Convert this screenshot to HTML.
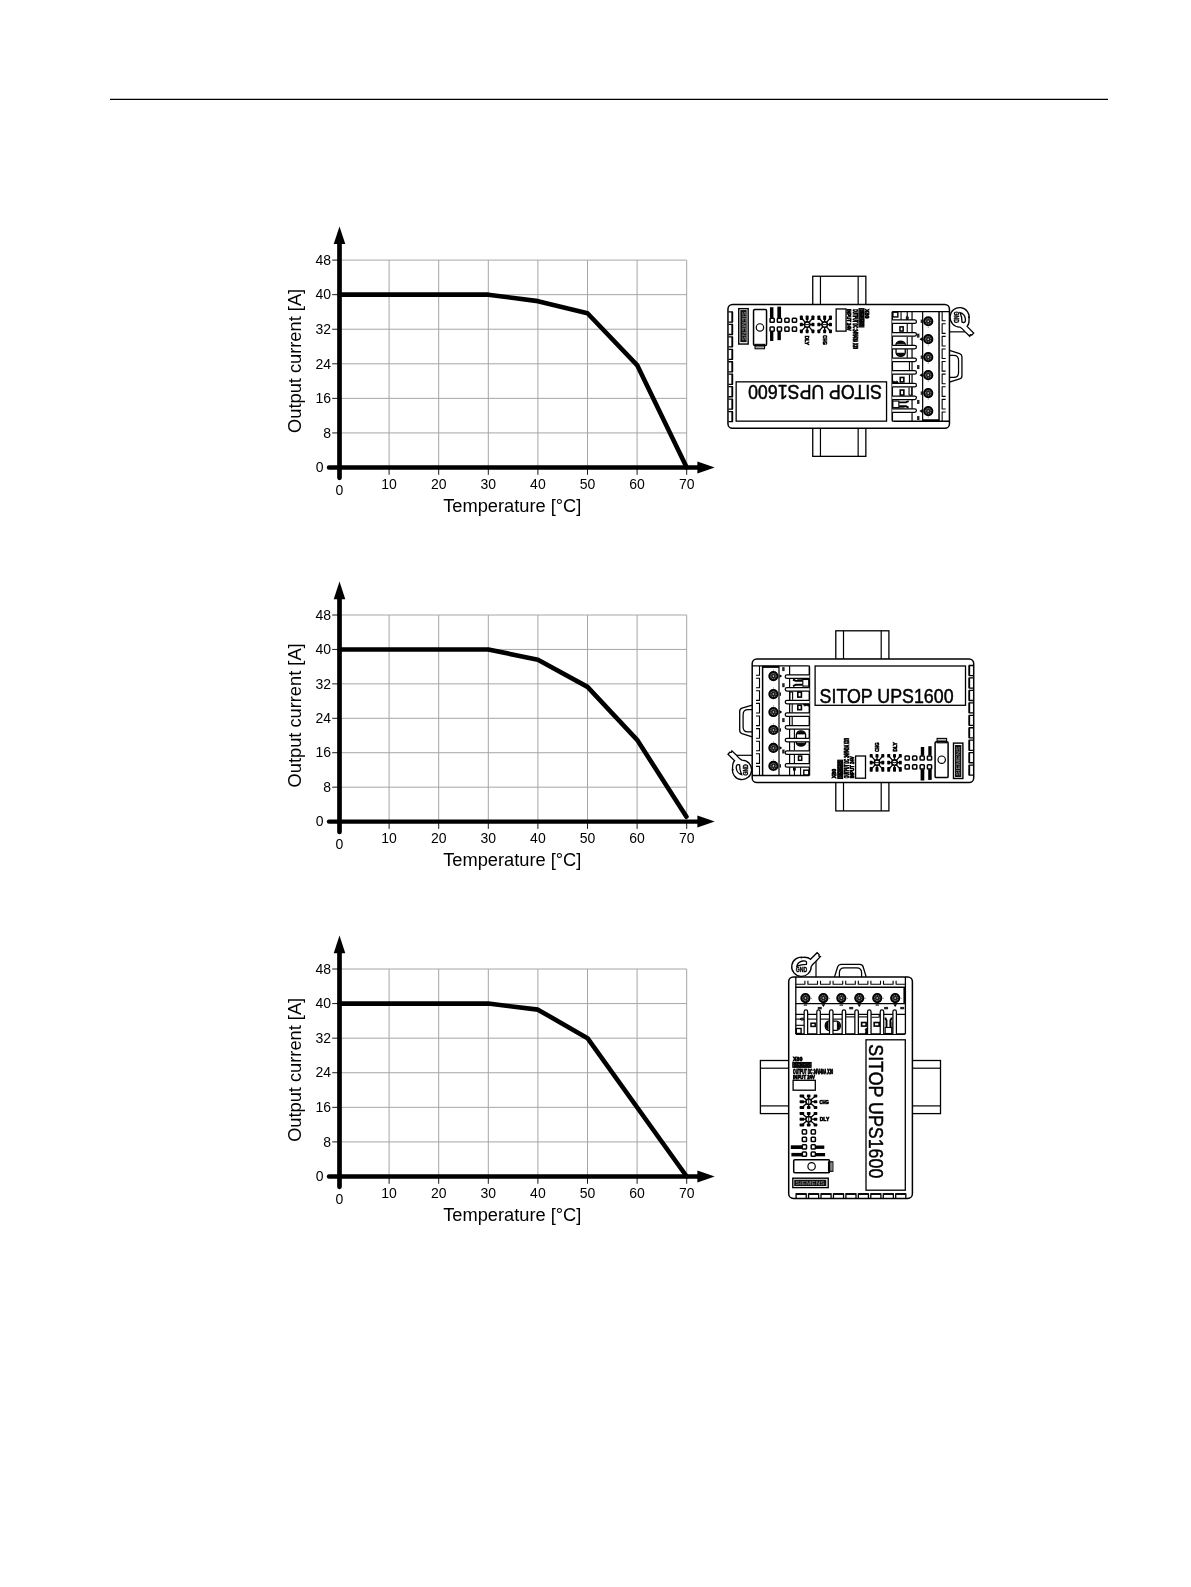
<!DOCTYPE html>
<html><head><meta charset="utf-8"><title>SITOP UPS1600 derating</title>
<style>html,body{margin:0;padding:0;background:#fff;}svg{display:block;will-change:transform;}</style></head>
<body>
<svg width="1191" height="1587" viewBox="0 0 1191 1587" font-family="'Liberation Sans', Arial, sans-serif" fill="#000">
<rect x="0" y="0" width="1191" height="1587" fill="#fff"/>
<line x1="110" y1="99.4" x2="1108" y2="99.4" stroke="#000" stroke-width="1.4"/>
<line x1="389.10" y1="260.10" x2="389.10" y2="467.50" stroke="#a6a6a6" stroke-width="1"/>
<line x1="389.10" y1="467.50" x2="389.10" y2="474.80" stroke="#1a1a1a" stroke-width="1"/>
<line x1="438.70" y1="260.10" x2="438.70" y2="467.50" stroke="#a6a6a6" stroke-width="1"/>
<line x1="438.70" y1="467.50" x2="438.70" y2="474.80" stroke="#1a1a1a" stroke-width="1"/>
<line x1="488.30" y1="260.10" x2="488.30" y2="467.50" stroke="#a6a6a6" stroke-width="1"/>
<line x1="488.30" y1="467.50" x2="488.30" y2="474.80" stroke="#1a1a1a" stroke-width="1"/>
<line x1="537.90" y1="260.10" x2="537.90" y2="467.50" stroke="#a6a6a6" stroke-width="1"/>
<line x1="537.90" y1="467.50" x2="537.90" y2="474.80" stroke="#1a1a1a" stroke-width="1"/>
<line x1="587.50" y1="260.10" x2="587.50" y2="467.50" stroke="#a6a6a6" stroke-width="1"/>
<line x1="587.50" y1="467.50" x2="587.50" y2="474.80" stroke="#1a1a1a" stroke-width="1"/>
<line x1="637.10" y1="260.10" x2="637.10" y2="467.50" stroke="#a6a6a6" stroke-width="1"/>
<line x1="637.10" y1="467.50" x2="637.10" y2="474.80" stroke="#1a1a1a" stroke-width="1"/>
<line x1="686.70" y1="260.10" x2="686.70" y2="467.50" stroke="#a6a6a6" stroke-width="1"/>
<line x1="686.70" y1="467.50" x2="686.70" y2="474.80" stroke="#1a1a1a" stroke-width="1"/>
<line x1="339.50" y1="432.93" x2="686.70" y2="432.93" stroke="#a6a6a6" stroke-width="1"/>
<line x1="332.2" y1="432.93" x2="339.50" y2="432.93" stroke="#1a1a1a" stroke-width="1"/>
<line x1="339.50" y1="398.37" x2="686.70" y2="398.37" stroke="#a6a6a6" stroke-width="1"/>
<line x1="332.2" y1="398.37" x2="339.50" y2="398.37" stroke="#1a1a1a" stroke-width="1"/>
<line x1="339.50" y1="363.80" x2="686.70" y2="363.80" stroke="#a6a6a6" stroke-width="1"/>
<line x1="332.2" y1="363.80" x2="339.50" y2="363.80" stroke="#1a1a1a" stroke-width="1"/>
<line x1="339.50" y1="329.23" x2="686.70" y2="329.23" stroke="#a6a6a6" stroke-width="1"/>
<line x1="332.2" y1="329.23" x2="339.50" y2="329.23" stroke="#1a1a1a" stroke-width="1"/>
<line x1="339.50" y1="294.67" x2="686.70" y2="294.67" stroke="#a6a6a6" stroke-width="1"/>
<line x1="332.2" y1="294.67" x2="339.50" y2="294.67" stroke="#1a1a1a" stroke-width="1"/>
<line x1="339.50" y1="260.10" x2="686.70" y2="260.10" stroke="#a6a6a6" stroke-width="1"/>
<line x1="332.2" y1="260.10" x2="339.50" y2="260.10" stroke="#1a1a1a" stroke-width="1"/>
<text x="323.6" y="472.20" font-size="14" text-anchor="end">0</text>
<text x="331" y="437.63" font-size="14" text-anchor="end">8</text>
<text x="331" y="403.07" font-size="14" text-anchor="end">16</text>
<text x="331" y="368.50" font-size="14" text-anchor="end">24</text>
<text x="331" y="333.93" font-size="14" text-anchor="end">32</text>
<text x="331" y="299.37" font-size="14" text-anchor="end">40</text>
<text x="331" y="264.80" font-size="14" text-anchor="end">48</text>
<text x="389.10" y="489.30" font-size="14" text-anchor="middle">10</text>
<text x="438.70" y="489.30" font-size="14" text-anchor="middle">20</text>
<text x="488.30" y="489.30" font-size="14" text-anchor="middle">30</text>
<text x="537.90" y="489.30" font-size="14" text-anchor="middle">40</text>
<text x="587.50" y="489.30" font-size="14" text-anchor="middle">50</text>
<text x="637.10" y="489.30" font-size="14" text-anchor="middle">60</text>
<text x="686.70" y="489.30" font-size="14" text-anchor="middle">70</text>
<text x="339.50" y="494.80" font-size="14" text-anchor="middle">0</text>
<text x="512.3" y="511.50" font-size="18.25" text-anchor="middle">Temperature [°C]</text>
<text transform="translate(301.1 360.90) rotate(-90)" font-size="18.25" text-anchor="middle">Output current [A]</text>
<polyline points="339.50,294.67 488.30,294.67 537.90,301.15 587.50,313.25 637.10,365.10 686.70,467.50" fill="none" stroke="#000" stroke-width="4.6" stroke-linejoin="round" stroke-linecap="round"/>
<line x1="339.5" y1="477.80" x2="339.5" y2="243.50" stroke="#000" stroke-width="4.7" stroke-linecap="round"/>
<path d="M333.70,244.00 L339.50,226.40 L345.30,244.00 Z" fill="#000"/>
<line x1="329" y1="467.50" x2="698" y2="467.50" stroke="#000" stroke-width="4.4" stroke-linecap="round"/>
<path d="M697.4,461.50 L714.7,467.50 L697.4,473.50 Z" fill="#000"/>
<line x1="389.10" y1="615.00" x2="389.10" y2="821.60" stroke="#a6a6a6" stroke-width="1"/>
<line x1="389.10" y1="821.60" x2="389.10" y2="828.90" stroke="#1a1a1a" stroke-width="1"/>
<line x1="438.70" y1="615.00" x2="438.70" y2="821.60" stroke="#a6a6a6" stroke-width="1"/>
<line x1="438.70" y1="821.60" x2="438.70" y2="828.90" stroke="#1a1a1a" stroke-width="1"/>
<line x1="488.30" y1="615.00" x2="488.30" y2="821.60" stroke="#a6a6a6" stroke-width="1"/>
<line x1="488.30" y1="821.60" x2="488.30" y2="828.90" stroke="#1a1a1a" stroke-width="1"/>
<line x1="537.90" y1="615.00" x2="537.90" y2="821.60" stroke="#a6a6a6" stroke-width="1"/>
<line x1="537.90" y1="821.60" x2="537.90" y2="828.90" stroke="#1a1a1a" stroke-width="1"/>
<line x1="587.50" y1="615.00" x2="587.50" y2="821.60" stroke="#a6a6a6" stroke-width="1"/>
<line x1="587.50" y1="821.60" x2="587.50" y2="828.90" stroke="#1a1a1a" stroke-width="1"/>
<line x1="637.10" y1="615.00" x2="637.10" y2="821.60" stroke="#a6a6a6" stroke-width="1"/>
<line x1="637.10" y1="821.60" x2="637.10" y2="828.90" stroke="#1a1a1a" stroke-width="1"/>
<line x1="686.70" y1="615.00" x2="686.70" y2="821.60" stroke="#a6a6a6" stroke-width="1"/>
<line x1="686.70" y1="821.60" x2="686.70" y2="828.90" stroke="#1a1a1a" stroke-width="1"/>
<line x1="339.50" y1="787.17" x2="686.70" y2="787.17" stroke="#a6a6a6" stroke-width="1"/>
<line x1="332.2" y1="787.17" x2="339.50" y2="787.17" stroke="#1a1a1a" stroke-width="1"/>
<line x1="339.50" y1="752.73" x2="686.70" y2="752.73" stroke="#a6a6a6" stroke-width="1"/>
<line x1="332.2" y1="752.73" x2="339.50" y2="752.73" stroke="#1a1a1a" stroke-width="1"/>
<line x1="339.50" y1="718.30" x2="686.70" y2="718.30" stroke="#a6a6a6" stroke-width="1"/>
<line x1="332.2" y1="718.30" x2="339.50" y2="718.30" stroke="#1a1a1a" stroke-width="1"/>
<line x1="339.50" y1="683.87" x2="686.70" y2="683.87" stroke="#a6a6a6" stroke-width="1"/>
<line x1="332.2" y1="683.87" x2="339.50" y2="683.87" stroke="#1a1a1a" stroke-width="1"/>
<line x1="339.50" y1="649.43" x2="686.70" y2="649.43" stroke="#a6a6a6" stroke-width="1"/>
<line x1="332.2" y1="649.43" x2="339.50" y2="649.43" stroke="#1a1a1a" stroke-width="1"/>
<line x1="339.50" y1="615.00" x2="686.70" y2="615.00" stroke="#a6a6a6" stroke-width="1"/>
<line x1="332.2" y1="615.00" x2="339.50" y2="615.00" stroke="#1a1a1a" stroke-width="1"/>
<text x="323.6" y="826.30" font-size="14" text-anchor="end">0</text>
<text x="331" y="791.87" font-size="14" text-anchor="end">8</text>
<text x="331" y="757.43" font-size="14" text-anchor="end">16</text>
<text x="331" y="723.00" font-size="14" text-anchor="end">24</text>
<text x="331" y="688.57" font-size="14" text-anchor="end">32</text>
<text x="331" y="654.13" font-size="14" text-anchor="end">40</text>
<text x="331" y="619.70" font-size="14" text-anchor="end">48</text>
<text x="389.10" y="843.40" font-size="14" text-anchor="middle">10</text>
<text x="438.70" y="843.40" font-size="14" text-anchor="middle">20</text>
<text x="488.30" y="843.40" font-size="14" text-anchor="middle">30</text>
<text x="537.90" y="843.40" font-size="14" text-anchor="middle">40</text>
<text x="587.50" y="843.40" font-size="14" text-anchor="middle">50</text>
<text x="637.10" y="843.40" font-size="14" text-anchor="middle">60</text>
<text x="686.70" y="843.40" font-size="14" text-anchor="middle">70</text>
<text x="339.50" y="848.90" font-size="14" text-anchor="middle">0</text>
<text x="512.3" y="865.60" font-size="18.25" text-anchor="middle">Temperature [°C]</text>
<text transform="translate(301.1 715.40) rotate(-90)" font-size="18.25" text-anchor="middle">Output current [A]</text>
<polyline points="339.50,649.43 488.30,649.43 537.90,659.76 587.50,686.88 637.10,739.82 686.45,816.65" fill="none" stroke="#000" stroke-width="4.6" stroke-linejoin="round" stroke-linecap="round"/>
<line x1="339.5" y1="831.90" x2="339.5" y2="598.70" stroke="#000" stroke-width="4.7" stroke-linecap="round"/>
<path d="M333.70,599.20 L339.50,581.60 L345.30,599.20 Z" fill="#000"/>
<line x1="329" y1="821.60" x2="698" y2="821.60" stroke="#000" stroke-width="4.4" stroke-linecap="round"/>
<path d="M697.4,815.60 L714.7,821.60 L697.4,827.60 Z" fill="#000"/>
<line x1="389.10" y1="969.00" x2="389.10" y2="1176.50" stroke="#a6a6a6" stroke-width="1"/>
<line x1="389.10" y1="1176.50" x2="389.10" y2="1183.80" stroke="#1a1a1a" stroke-width="1"/>
<line x1="438.70" y1="969.00" x2="438.70" y2="1176.50" stroke="#a6a6a6" stroke-width="1"/>
<line x1="438.70" y1="1176.50" x2="438.70" y2="1183.80" stroke="#1a1a1a" stroke-width="1"/>
<line x1="488.30" y1="969.00" x2="488.30" y2="1176.50" stroke="#a6a6a6" stroke-width="1"/>
<line x1="488.30" y1="1176.50" x2="488.30" y2="1183.80" stroke="#1a1a1a" stroke-width="1"/>
<line x1="537.90" y1="969.00" x2="537.90" y2="1176.50" stroke="#a6a6a6" stroke-width="1"/>
<line x1="537.90" y1="1176.50" x2="537.90" y2="1183.80" stroke="#1a1a1a" stroke-width="1"/>
<line x1="587.50" y1="969.00" x2="587.50" y2="1176.50" stroke="#a6a6a6" stroke-width="1"/>
<line x1="587.50" y1="1176.50" x2="587.50" y2="1183.80" stroke="#1a1a1a" stroke-width="1"/>
<line x1="637.10" y1="969.00" x2="637.10" y2="1176.50" stroke="#a6a6a6" stroke-width="1"/>
<line x1="637.10" y1="1176.50" x2="637.10" y2="1183.80" stroke="#1a1a1a" stroke-width="1"/>
<line x1="686.70" y1="969.00" x2="686.70" y2="1176.50" stroke="#a6a6a6" stroke-width="1"/>
<line x1="686.70" y1="1176.50" x2="686.70" y2="1183.80" stroke="#1a1a1a" stroke-width="1"/>
<line x1="339.50" y1="1141.92" x2="686.70" y2="1141.92" stroke="#a6a6a6" stroke-width="1"/>
<line x1="332.2" y1="1141.92" x2="339.50" y2="1141.92" stroke="#1a1a1a" stroke-width="1"/>
<line x1="339.50" y1="1107.33" x2="686.70" y2="1107.33" stroke="#a6a6a6" stroke-width="1"/>
<line x1="332.2" y1="1107.33" x2="339.50" y2="1107.33" stroke="#1a1a1a" stroke-width="1"/>
<line x1="339.50" y1="1072.75" x2="686.70" y2="1072.75" stroke="#a6a6a6" stroke-width="1"/>
<line x1="332.2" y1="1072.75" x2="339.50" y2="1072.75" stroke="#1a1a1a" stroke-width="1"/>
<line x1="339.50" y1="1038.17" x2="686.70" y2="1038.17" stroke="#a6a6a6" stroke-width="1"/>
<line x1="332.2" y1="1038.17" x2="339.50" y2="1038.17" stroke="#1a1a1a" stroke-width="1"/>
<line x1="339.50" y1="1003.58" x2="686.70" y2="1003.58" stroke="#a6a6a6" stroke-width="1"/>
<line x1="332.2" y1="1003.58" x2="339.50" y2="1003.58" stroke="#1a1a1a" stroke-width="1"/>
<line x1="339.50" y1="969.00" x2="686.70" y2="969.00" stroke="#a6a6a6" stroke-width="1"/>
<line x1="332.2" y1="969.00" x2="339.50" y2="969.00" stroke="#1a1a1a" stroke-width="1"/>
<text x="323.6" y="1181.20" font-size="14" text-anchor="end">0</text>
<text x="331" y="1146.62" font-size="14" text-anchor="end">8</text>
<text x="331" y="1112.03" font-size="14" text-anchor="end">16</text>
<text x="331" y="1077.45" font-size="14" text-anchor="end">24</text>
<text x="331" y="1042.87" font-size="14" text-anchor="end">32</text>
<text x="331" y="1008.28" font-size="14" text-anchor="end">40</text>
<text x="331" y="973.70" font-size="14" text-anchor="end">48</text>
<text x="389.10" y="1198.30" font-size="14" text-anchor="middle">10</text>
<text x="438.70" y="1198.30" font-size="14" text-anchor="middle">20</text>
<text x="488.30" y="1198.30" font-size="14" text-anchor="middle">30</text>
<text x="537.90" y="1198.30" font-size="14" text-anchor="middle">40</text>
<text x="587.50" y="1198.30" font-size="14" text-anchor="middle">50</text>
<text x="637.10" y="1198.30" font-size="14" text-anchor="middle">60</text>
<text x="686.70" y="1198.30" font-size="14" text-anchor="middle">70</text>
<text x="339.50" y="1203.80" font-size="14" text-anchor="middle">0</text>
<text x="512.3" y="1220.50" font-size="18.25" text-anchor="middle">Temperature [°C]</text>
<text transform="translate(301.1 1069.85) rotate(-90)" font-size="18.25" text-anchor="middle">Output current [A]</text>
<polyline points="339.50,1003.58 488.30,1003.58 537.90,1009.64 587.50,1038.17 686.70,1176.50" fill="none" stroke="#000" stroke-width="4.6" stroke-linejoin="round" stroke-linecap="round"/>
<line x1="339.5" y1="1186.80" x2="339.5" y2="952.70" stroke="#000" stroke-width="4.7" stroke-linecap="round"/>
<path d="M333.70,953.20 L339.50,935.60 L345.30,953.20 Z" fill="#000"/>
<line x1="329" y1="1176.50" x2="698" y2="1176.50" stroke="#000" stroke-width="4.4" stroke-linecap="round"/>
<path d="M697.4,1170.50 L714.7,1176.50 L697.4,1182.50 Z" fill="#000"/>
<g transform="translate(949.45 428.25) rotate(180)">
<rect x="83.60" y="-28.10" width="53.10" height="28.60" fill="#fff" stroke="#000" stroke-width="1.3"/>
<line x1="91.30" y1="-28.10" x2="91.30" y2="0.50" stroke="#000" stroke-width="1.2"/>
<line x1="129.00" y1="-28.10" x2="129.00" y2="0.50" stroke="#000" stroke-width="1.2"/>
<rect x="83.60" y="123.20" width="53.10" height="28.80" fill="#fff" stroke="#000" stroke-width="1.3"/>
<line x1="91.30" y1="123.20" x2="91.30" y2="152.00" stroke="#000" stroke-width="1.2"/>
<line x1="129.00" y1="123.20" x2="129.00" y2="152.00" stroke="#000" stroke-width="1.2"/>
<path d="M0,46.2 L-10.2,49.3 Q-12.5,50.0 -12.5,52.6 L-12.5,71.4 Q-12.5,73.9 -10.2,74.7 L0,77.9" fill="#fff" stroke="#000" stroke-width="1.3"/>
<path d="M0,50.8 L-4.2,50.8 Q-9.1,50.8 -9.1,55.8 L-9.1,68.0 Q-9.1,73.0 -4.2,73.0 L0,73.0" fill="none" stroke="#000" stroke-width="1.25"/>
<line x1="-15.70" y1="96.40" x2="0.00" y2="96.40" stroke="#000" stroke-width="1.2"/>
<path d="M-17.6,101.9 Q-19.9,104.2 -19.6,109.0 A9.6,9.75 0 1 0 -10.4,101.2 Q-13.0,99.6 -15.2,96.9 L-20.3,92.0 L-20.9,93.5 L-22.4,93.3 L-24.2,95.3 Z" fill="#fff" stroke="#000" stroke-width="1.3"/>
<path d="M-12.6,106.0 Q-16.6,104.8 -15.9,109.6 Q-15.0,114.6 -10.6,115.6 Q-12.6,111.5 -12.6,106.0 Z" fill="none" stroke="#000" stroke-width="1.3"/>
<text transform="translate(-4.6 116.7) rotate(-90)" font-size="7.9" font-weight="bold" stroke="#000" stroke-width="0.45" textLength="11.4" lengthAdjust="spacingAndGlyphs">GND</text>
<rect x="-19.90" y="110.20" width="1.40" height="1.40" fill="#000"/>
<rect x="0" y="0" width="221.5" height="123.7" rx="4.6" fill="#fff" stroke="#000" stroke-width="1.5"/>
<line x1="0.00" y1="7.00" x2="56.20" y2="7.00" stroke="#000" stroke-width="1.3"/>
<line x1="0.00" y1="116.60" x2="57.10" y2="116.60" stroke="#000" stroke-width="1.3"/>
<path d="M56.2,7.0 Q57.2,7.0 57.2,8.0 L57.2,116.6" fill="none" stroke="#000" stroke-width="1.6"/>
<path d="M7.3,7.0 L7.3,16.3 L3.8,16.3" fill="none" stroke="#000" stroke-width="1.1"/>
<path d="M3.8,19.30 L7.3,19.30 L7.3,28.90 L3.8,28.90" fill="none" stroke="#000" stroke-width="1.1"/>
<path d="M3.8,31.90 L7.3,31.90 L7.3,41.50 L3.8,41.50" fill="none" stroke="#000" stroke-width="1.1"/>
<path d="M3.8,44.50 L7.3,44.50 L7.3,54.10 L3.8,54.10" fill="none" stroke="#000" stroke-width="1.1"/>
<path d="M3.8,57.10 L7.3,57.10 L7.3,66.70 L3.8,66.70" fill="none" stroke="#000" stroke-width="1.1"/>
<path d="M3.8,69.70 L7.3,69.70 L7.3,79.30 L3.8,79.30" fill="none" stroke="#000" stroke-width="1.1"/>
<path d="M3.8,82.30 L7.3,82.30 L7.3,91.90 L3.8,91.90" fill="none" stroke="#000" stroke-width="1.1"/>
<path d="M3.8,94.90 L7.3,94.90 L7.3,104.50 L3.8,104.50" fill="none" stroke="#000" stroke-width="1.1"/>
<path d="M3.8,107.50 L7.3,107.50 L7.3,116.60" fill="none" stroke="#000" stroke-width="1.1"/>
<line x1="10.40" y1="7.00" x2="10.40" y2="116.60" stroke="#000" stroke-width="1.5"/>
<line x1="10.40" y1="8.00" x2="26.80" y2="8.00" stroke="#000" stroke-width="2.0"/>
<line x1="26.80" y1="7.00" x2="26.80" y2="116.60" stroke="#000" stroke-width="1.2"/>
<circle cx="21.2" cy="17.20" r="4.3" fill="#1c1c1c" stroke="#000" stroke-width="1.6"/>
<circle cx="21.2" cy="17.20" r="2.6" fill="none" stroke="#bbb" stroke-width="0.7" stroke-dasharray="1.1 1.1"/>
<circle cx="21.2" cy="17.20" r="0.8" fill="#ddd"/>
<path d="M27.3,15.30 L30.0,17.20 L27.3,19.10 Z" fill="#000"/>
<rect x="21.00" y="10.80" width="0.60" height="0.80" fill="#000"/>
<circle cx="21.2" cy="35.16" r="4.3" fill="#1c1c1c" stroke="#000" stroke-width="1.6"/>
<circle cx="21.2" cy="35.16" r="2.6" fill="none" stroke="#bbb" stroke-width="0.7" stroke-dasharray="1.1 1.1"/>
<circle cx="21.2" cy="35.16" r="0.8" fill="#ddd"/>
<rect x="27.60" y="33.46" width="1.10" height="3.40" fill="#000"/>
<rect x="21.00" y="28.76" width="0.60" height="0.80" fill="#000"/>
<circle cx="21.2" cy="53.12" r="4.3" fill="#1c1c1c" stroke="#000" stroke-width="1.6"/>
<circle cx="21.2" cy="53.12" r="2.6" fill="none" stroke="#bbb" stroke-width="0.7" stroke-dasharray="1.1 1.1"/>
<circle cx="21.2" cy="53.12" r="0.8" fill="#ddd"/>
<path d="M27.3,51.22 L30.0,53.12 L27.3,55.02 Z" fill="#000"/>
<rect x="21.00" y="46.72" width="0.60" height="0.80" fill="#000"/>
<circle cx="21.2" cy="71.08" r="4.3" fill="#1c1c1c" stroke="#000" stroke-width="1.6"/>
<circle cx="21.2" cy="71.08" r="2.6" fill="none" stroke="#bbb" stroke-width="0.7" stroke-dasharray="1.1 1.1"/>
<circle cx="21.2" cy="71.08" r="0.8" fill="#ddd"/>
<rect x="27.60" y="69.38" width="1.10" height="3.40" fill="#000"/>
<rect x="21.00" y="64.68" width="0.60" height="0.80" fill="#000"/>
<circle cx="21.2" cy="89.04" r="4.3" fill="#1c1c1c" stroke="#000" stroke-width="1.6"/>
<circle cx="21.2" cy="89.04" r="2.6" fill="none" stroke="#bbb" stroke-width="0.7" stroke-dasharray="1.1 1.1"/>
<circle cx="21.2" cy="89.04" r="0.8" fill="#ddd"/>
<path d="M27.3,87.14 L30.0,89.04 L27.3,90.94 Z" fill="#000"/>
<rect x="21.00" y="82.64" width="0.60" height="0.80" fill="#000"/>
<circle cx="21.2" cy="107.00" r="4.3" fill="#1c1c1c" stroke="#000" stroke-width="1.6"/>
<circle cx="21.2" cy="107.00" r="2.6" fill="none" stroke="#bbb" stroke-width="0.7" stroke-dasharray="1.1 1.1"/>
<circle cx="21.2" cy="107.00" r="0.8" fill="#ddd"/>
<rect x="27.60" y="105.30" width="1.10" height="3.40" fill="#000"/>
<rect x="21.00" y="100.60" width="0.60" height="0.80" fill="#000"/>
<rect x="30.00" y="8.20" width="2.40" height="4.00" fill="#222"/>
<rect x="30.00" y="24.30" width="2.40" height="4.00" fill="#222"/>
<rect x="30.00" y="59.20" width="2.40" height="4.00" fill="#222"/>
<rect x="30.00" y="90.60" width="2.40" height="4.00" fill="#222"/>
<line x1="37.40" y1="7.00" x2="37.40" y2="116.60" stroke="#000" stroke-width="1.2"/>
<line x1="40.00" y1="44.50" x2="40.00" y2="53.60" stroke="#000" stroke-width="1.1"/>
<line x1="40.00" y1="57.20" x2="40.00" y2="66.30" stroke="#000" stroke-width="1.1"/>
<line x1="42.20" y1="70.20" x2="42.20" y2="79.40" stroke="#000" stroke-width="1.1"/>
<line x1="42.20" y1="82.60" x2="42.20" y2="91.50" stroke="#000" stroke-width="1.1"/>
<line x1="42.20" y1="95.30" x2="42.20" y2="104.60" stroke="#000" stroke-width="1.1"/>
<line x1="42.20" y1="108.00" x2="42.20" y2="116.60" stroke="#000" stroke-width="1.1"/>
<line x1="48.40" y1="108.00" x2="48.40" y2="116.60" stroke="#000" stroke-width="1.1"/>
<path d="M40.8,20.6 Q42.6,21.3 43.4,22.0 L50.4,22.0 M40.8,27.2 Q42.6,26.5 43.4,25.9 L50.4,25.9" fill="none" stroke="#000" stroke-width="1.9"/>
<rect x="50.60" y="20.60" width="6.00" height="6.60" fill="none" stroke="#000" stroke-width="1.1"/>
<line x1="45.00" y1="20.40" x2="57.00" y2="20.40" stroke="#000" stroke-width="0.9"/>
<rect x="45.60" y="33.20" width="3.60" height="5.00" fill="none" stroke="#000" stroke-width="1.6"/>
<path d="M37.6,40.8 L37.6,33.5 Q39.1,32.5 40.4,33.5 L40.4,40.8" fill="none" stroke="#000" stroke-width="1.1"/>
<rect x="45.60" y="46.30" width="3.60" height="4.50" fill="none" stroke="#000" stroke-width="1.6"/>
<path d="M50.6,44.6 L57,44.6 L57,47.2 Q53.5,46 52.3,47.2 Z" fill="#000" stroke="#000" stroke-width="0.8"/>
<path d="M44.2,79.4 L44.2,75.5 Q45,72.2 48.8,72.0 Q52.6,72.2 53.4,75.5 L53.4,79.4" fill="none" stroke="#000" stroke-width="1.3"/>
<path d="M45.0,75.0 Q46,72.9 48.8,72.8 Q51.6,72.9 52.6,75.0 Z" fill="#000" stroke="#000" stroke-width="1.0"/>
<path d="M44.2,82.6 L44.2,84.2 Q45,87 48.8,87.2 Q52.6,87 53.4,84.2 L53.4,82.6" fill="none" stroke="#000" stroke-width="1.3"/>
<path d="M45.0,84.4 Q46,86.4 48.8,86.5 Q51.6,86.4 52.6,84.4 Z" fill="#000" stroke="#000" stroke-width="1.0"/>
<rect x="46.30" y="97.20" width="3.20" height="4.20" fill="none" stroke="#000" stroke-width="1.5"/>
<path d="M41.3,108.5 L41.3,111.5 Q42.2,113 43.1,111.5 L43.1,108.5" fill="none" stroke="#000" stroke-width="1.0"/>
<rect x="51.60" y="111.30" width="5.00" height="4.80" fill="none" stroke="#000" stroke-width="1.4"/>
<path d="M57.2,16.00 L34.8,16.00 Q33.0,16.00 33.0,17.75 Q33.0,19.50 34.8,19.50 L57.2,19.50" fill="#fff" stroke="#000" stroke-width="1.25"/>
<path d="M57.2,28.68 L34.8,28.68 Q33.0,28.68 33.0,30.43 Q33.0,32.18 34.8,32.18 L57.2,32.18" fill="#fff" stroke="#000" stroke-width="1.25"/>
<path d="M57.2,41.36 L34.8,41.36 Q33.0,41.36 33.0,43.11 Q33.0,44.86 34.8,44.86 L57.2,44.86" fill="#fff" stroke="#000" stroke-width="1.25"/>
<path d="M57.2,54.04 L34.8,54.04 Q33.0,54.04 33.0,55.79 Q33.0,57.54 34.8,57.54 L57.2,57.54" fill="#fff" stroke="#000" stroke-width="1.25"/>
<path d="M57.2,66.72 L34.8,66.72 Q33.0,66.72 33.0,68.47 Q33.0,70.22 34.8,70.22 L57.2,70.22" fill="#fff" stroke="#000" stroke-width="1.25"/>
<path d="M57.2,79.40 L34.8,79.40 Q33.0,79.40 33.0,81.15 Q33.0,82.90 34.8,82.90 L57.2,82.90" fill="#fff" stroke="#000" stroke-width="1.25"/>
<path d="M57.2,92.08 L34.8,92.08 Q33.0,92.08 33.0,93.83 Q33.0,95.58 34.8,95.58 L57.2,95.58" fill="#fff" stroke="#000" stroke-width="1.25"/>
<path d="M57.2,104.76 L34.8,104.76 Q33.0,104.76 33.0,106.51 Q33.0,108.26 34.8,108.26 L57.2,108.26" fill="#fff" stroke="#000" stroke-width="1.25"/>
<rect x="62.90" y="7.10" width="150.40" height="39.30" fill="none" stroke="#000" stroke-width="1.3"/>
<text x="67.4" y="43.75" font-size="20.3" stroke="#000" stroke-width="0.5" textLength="134" lengthAdjust="spacingAndGlyphs">SITOP UPS1600</text>
<path d="M221.0,6.60 L217.1,6.60 L217.1,16.70 L221.0,16.70" fill="none" stroke="#000" stroke-width="1.3"/>
<line x1="217.10" y1="6.60" x2="217.10" y2="16.70" stroke="#000" stroke-width="1.7"/>
<path d="M221.0,19.05 L217.1,19.05 L217.1,29.15 L221.0,29.15" fill="none" stroke="#000" stroke-width="1.3"/>
<line x1="217.10" y1="19.05" x2="217.10" y2="29.15" stroke="#000" stroke-width="1.7"/>
<path d="M221.0,31.50 L217.1,31.50 L217.1,41.60 L221.0,41.60" fill="none" stroke="#000" stroke-width="1.3"/>
<line x1="217.10" y1="31.50" x2="217.10" y2="41.60" stroke="#000" stroke-width="1.7"/>
<path d="M221.0,43.95 L217.1,43.95 L217.1,54.05 L221.0,54.05" fill="none" stroke="#000" stroke-width="1.3"/>
<line x1="217.10" y1="43.95" x2="217.10" y2="54.05" stroke="#000" stroke-width="1.7"/>
<path d="M221.0,56.40 L217.1,56.40 L217.1,66.50 L221.0,66.50" fill="none" stroke="#000" stroke-width="1.3"/>
<line x1="217.10" y1="56.40" x2="217.10" y2="66.50" stroke="#000" stroke-width="1.7"/>
<path d="M221.0,68.85 L217.1,68.85 L217.1,78.95 L221.0,78.95" fill="none" stroke="#000" stroke-width="1.3"/>
<line x1="217.10" y1="68.85" x2="217.10" y2="78.95" stroke="#000" stroke-width="1.7"/>
<path d="M221.0,81.30 L217.1,81.30 L217.1,91.40 L221.0,91.40" fill="none" stroke="#000" stroke-width="1.3"/>
<line x1="217.10" y1="81.30" x2="217.10" y2="91.40" stroke="#000" stroke-width="1.7"/>
<path d="M221.0,93.75 L217.1,93.75 L217.1,103.85 L221.0,103.85" fill="none" stroke="#000" stroke-width="1.3"/>
<line x1="217.10" y1="93.75" x2="217.10" y2="103.85" stroke="#000" stroke-width="1.7"/>
<path d="M221.0,106.20 L217.1,106.20 L217.1,116.30 L221.0,116.30" fill="none" stroke="#000" stroke-width="1.3"/>
<line x1="217.10" y1="106.20" x2="217.10" y2="116.30" stroke="#000" stroke-width="1.7"/>
<text transform="translate(84.0 119.3) rotate(-90)" font-size="5.4" font-weight="bold" fill="#000" stroke="#000" stroke-width="0.8" textLength="9.4" lengthAdjust="spacingAndGlyphs">X80</text>
<rect x="85.60" y="101.30" width="4.80" height="18.30" fill="#444" stroke="#000" stroke-width="1.1"/>
<text transform="translate(89.7 118.6) rotate(-90)" font-size="5.0" font-weight="bold" fill="#000" stroke="#000" stroke-width="0.5" textLength="16.6" lengthAdjust="spacingAndGlyphs">SIEMENS</text>
<text transform="translate(96.8 119.3) rotate(-90)" font-size="6.4" font-weight="bold" fill="#000" stroke="#000" stroke-width="0.8" textLength="40.0" lengthAdjust="spacingAndGlyphs">OUTPUT DC 24V/40A X30</text>
<text transform="translate(102.0 119.3) rotate(-90)" font-size="5.4" font-weight="bold" fill="#000" stroke="#000" stroke-width="0.75" textLength="21.8" lengthAdjust="spacingAndGlyphs">INPUT 24V</text>
<rect x="103.40" y="97.10" width="9.90" height="22.20" fill="none" stroke="#000" stroke-width="1.3"/>
<line x1="124.80" y1="103.70" x2="119.00" y2="96.90" stroke="#000" stroke-width="1.3"/>
<rect x="117.50" y="95.10" width="3.0" height="3.60" rx="0.7" fill="#000"/>
<line x1="124.80" y1="103.70" x2="119.00" y2="103.70" stroke="#000" stroke-width="1.3"/>
<rect x="117.50" y="101.90" width="3.0" height="3.60" rx="0.7" fill="#000"/>
<line x1="124.80" y1="103.70" x2="119.00" y2="110.50" stroke="#000" stroke-width="1.3"/>
<rect x="117.50" y="108.20" width="3.0" height="4.60" rx="0.7" fill="#000"/>
<line x1="124.80" y1="103.70" x2="124.80" y2="96.90" stroke="#000" stroke-width="1.3"/>
<rect x="123.30" y="95.10" width="3.0" height="3.60" rx="0.7" fill="#000"/>
<line x1="124.80" y1="103.70" x2="124.80" y2="110.50" stroke="#000" stroke-width="1.3"/>
<rect x="123.30" y="108.20" width="3.0" height="4.60" rx="0.7" fill="#000"/>
<line x1="124.80" y1="103.70" x2="130.60" y2="96.90" stroke="#000" stroke-width="1.3"/>
<rect x="129.10" y="95.10" width="3.0" height="3.60" rx="0.7" fill="#000"/>
<line x1="124.80" y1="103.70" x2="130.60" y2="103.70" stroke="#000" stroke-width="1.3"/>
<rect x="129.10" y="101.90" width="3.0" height="3.60" rx="0.7" fill="#000"/>
<line x1="124.80" y1="103.70" x2="130.60" y2="110.50" stroke="#000" stroke-width="1.3"/>
<rect x="129.10" y="108.20" width="3.0" height="4.60" rx="0.7" fill="#000"/>
<circle cx="124.8" cy="103.7" r="3.5" fill="#000"/>
<ellipse cx="124.8" cy="103.7" rx="2.0" ry="1.9" fill="#fff"/>
<line x1="122.60" y1="103.70" x2="127.00" y2="103.70" stroke="#000" stroke-width="0.9"/>
<text transform="translate(126.80 92.90) rotate(-90)" font-size="4.8" font-weight="bold" stroke="#000" stroke-width="0.6" textLength="9.4" lengthAdjust="spacingAndGlyphs">CHG</text>
<line x1="142.30" y1="103.70" x2="136.50" y2="96.90" stroke="#000" stroke-width="1.3"/>
<rect x="135.00" y="95.10" width="3.0" height="3.60" rx="0.7" fill="#000"/>
<line x1="142.30" y1="103.70" x2="136.50" y2="103.70" stroke="#000" stroke-width="1.3"/>
<rect x="135.00" y="101.90" width="3.0" height="3.60" rx="0.7" fill="#000"/>
<line x1="142.30" y1="103.70" x2="136.50" y2="110.50" stroke="#000" stroke-width="1.3"/>
<rect x="135.00" y="108.20" width="3.0" height="4.60" rx="0.7" fill="#000"/>
<line x1="142.30" y1="103.70" x2="142.30" y2="96.90" stroke="#000" stroke-width="1.3"/>
<rect x="140.80" y="95.10" width="3.0" height="3.60" rx="0.7" fill="#000"/>
<line x1="142.30" y1="103.70" x2="142.30" y2="110.50" stroke="#000" stroke-width="1.3"/>
<rect x="140.80" y="108.20" width="3.0" height="4.60" rx="0.7" fill="#000"/>
<line x1="142.30" y1="103.70" x2="148.10" y2="96.90" stroke="#000" stroke-width="1.3"/>
<rect x="146.60" y="95.10" width="3.0" height="3.60" rx="0.7" fill="#000"/>
<line x1="142.30" y1="103.70" x2="148.10" y2="103.70" stroke="#000" stroke-width="1.3"/>
<rect x="146.60" y="101.90" width="3.0" height="3.60" rx="0.7" fill="#000"/>
<line x1="142.30" y1="103.70" x2="148.10" y2="110.50" stroke="#000" stroke-width="1.3"/>
<rect x="146.60" y="108.20" width="3.0" height="4.60" rx="0.7" fill="#000"/>
<circle cx="142.3" cy="103.7" r="3.5" fill="#000"/>
<ellipse cx="142.3" cy="103.7" rx="2.0" ry="1.9" fill="#fff"/>
<line x1="140.10" y1="103.70" x2="144.50" y2="103.70" stroke="#000" stroke-width="0.9"/>
<text transform="translate(144.30 92.60) rotate(-90)" font-size="4.8" font-weight="bold" stroke="#000" stroke-width="0.6" textLength="9.4" lengthAdjust="spacingAndGlyphs">DLY</text>
<rect x="152.90" y="97.00" width="4.2" height="4.2" rx="0.8" fill="#fff" stroke="#000" stroke-width="1.5"/>
<rect x="152.90" y="105.90" width="4.2" height="4.2" rx="0.8" fill="#fff" stroke="#000" stroke-width="1.5"/>
<rect x="160.40" y="97.00" width="4.2" height="4.2" rx="0.8" fill="#fff" stroke="#000" stroke-width="1.5"/>
<rect x="160.40" y="105.90" width="4.2" height="4.2" rx="0.8" fill="#fff" stroke="#000" stroke-width="1.5"/>
<rect x="167.90" y="97.00" width="4.2" height="4.2" rx="0.8" fill="#fff" stroke="#000" stroke-width="1.5"/>
<rect x="167.90" y="105.90" width="4.2" height="4.2" rx="0.8" fill="#fff" stroke="#000" stroke-width="1.5"/>
<rect x="175.20" y="97.00" width="4.2" height="4.2" rx="0.8" fill="#fff" stroke="#000" stroke-width="1.5"/>
<rect x="175.20" y="105.90" width="4.2" height="4.2" rx="0.8" fill="#fff" stroke="#000" stroke-width="1.5"/>
<rect x="168.60" y="88.10" width="3.40" height="8.60" fill="#000"/>
<rect x="176.10" y="87.30" width="3.30" height="9.40" fill="#000"/>
<rect x="168.40" y="110.30" width="3.70" height="11.30" fill="#000"/>
<rect x="176.00" y="110.30" width="3.50" height="10.70" fill="#000"/>
<rect x="182.9" y="82.8" width="13.0" height="35.9" rx="1.2" fill="none" stroke="#000" stroke-width="1.5"/>
<rect x="184.90" y="79.50" width="9.50" height="4.40" fill="none" stroke="#000" stroke-width="1.1"/>
<line x1="184.90" y1="81.30" x2="194.40" y2="81.30" stroke="#000" stroke-width="0.8"/>
<circle cx="189.5" cy="100.8" r="3.7" fill="none" stroke="#000" stroke-width="1.2"/>
<rect x="201.30" y="84.20" width="9.40" height="35.40" fill="none" stroke="#000" stroke-width="1.4"/>
<rect x="202.80" y="86.10" width="6.30" height="32.10" fill="#111"/>
<text transform="translate(207.6 116.8) rotate(-90)" font-size="5.5" font-weight="bold" fill="#777" textLength="29" lengthAdjust="spacingAndGlyphs">SIEMENS</text>
</g>
<g transform="translate(752.2 658.9)">
<rect x="83.60" y="-28.10" width="53.10" height="28.60" fill="#fff" stroke="#000" stroke-width="1.3"/>
<line x1="91.30" y1="-28.10" x2="91.30" y2="0.50" stroke="#000" stroke-width="1.2"/>
<line x1="129.00" y1="-28.10" x2="129.00" y2="0.50" stroke="#000" stroke-width="1.2"/>
<rect x="83.60" y="123.20" width="53.10" height="28.80" fill="#fff" stroke="#000" stroke-width="1.3"/>
<line x1="91.30" y1="123.20" x2="91.30" y2="152.00" stroke="#000" stroke-width="1.2"/>
<line x1="129.00" y1="123.20" x2="129.00" y2="152.00" stroke="#000" stroke-width="1.2"/>
<path d="M0,46.2 L-10.2,49.3 Q-12.5,50.0 -12.5,52.6 L-12.5,71.4 Q-12.5,73.9 -10.2,74.7 L0,77.9" fill="#fff" stroke="#000" stroke-width="1.3"/>
<path d="M0,50.8 L-4.2,50.8 Q-9.1,50.8 -9.1,55.8 L-9.1,68.0 Q-9.1,73.0 -4.2,73.0 L0,73.0" fill="none" stroke="#000" stroke-width="1.25"/>
<line x1="-15.70" y1="96.40" x2="0.00" y2="96.40" stroke="#000" stroke-width="1.2"/>
<path d="M-17.6,101.9 Q-19.9,104.2 -19.6,109.0 A9.6,9.75 0 1 0 -10.4,101.2 Q-13.0,99.6 -15.2,96.9 L-20.3,92.0 L-20.9,93.5 L-22.4,93.3 L-24.2,95.3 Z" fill="#fff" stroke="#000" stroke-width="1.3"/>
<path d="M-12.6,106.0 Q-16.6,104.8 -15.9,109.6 Q-15.0,114.6 -10.6,115.6 Q-12.6,111.5 -12.6,106.0 Z" fill="none" stroke="#000" stroke-width="1.3"/>
<text transform="translate(-4.6 116.7) rotate(-90)" font-size="7.9" font-weight="bold" stroke="#000" stroke-width="0.45" textLength="11.4" lengthAdjust="spacingAndGlyphs">GND</text>
<rect x="-19.90" y="110.20" width="1.40" height="1.40" fill="#000"/>
<rect x="0" y="0" width="221.5" height="123.7" rx="4.6" fill="#fff" stroke="#000" stroke-width="1.5"/>
<line x1="0.00" y1="7.00" x2="56.20" y2="7.00" stroke="#000" stroke-width="1.3"/>
<line x1="0.00" y1="116.60" x2="57.10" y2="116.60" stroke="#000" stroke-width="1.3"/>
<path d="M56.2,7.0 Q57.2,7.0 57.2,8.0 L57.2,116.6" fill="none" stroke="#000" stroke-width="1.6"/>
<path d="M7.3,7.0 L7.3,16.3 L3.8,16.3" fill="none" stroke="#000" stroke-width="1.1"/>
<path d="M3.8,19.30 L7.3,19.30 L7.3,28.90 L3.8,28.90" fill="none" stroke="#000" stroke-width="1.1"/>
<path d="M3.8,31.90 L7.3,31.90 L7.3,41.50 L3.8,41.50" fill="none" stroke="#000" stroke-width="1.1"/>
<path d="M3.8,44.50 L7.3,44.50 L7.3,54.10 L3.8,54.10" fill="none" stroke="#000" stroke-width="1.1"/>
<path d="M3.8,57.10 L7.3,57.10 L7.3,66.70 L3.8,66.70" fill="none" stroke="#000" stroke-width="1.1"/>
<path d="M3.8,69.70 L7.3,69.70 L7.3,79.30 L3.8,79.30" fill="none" stroke="#000" stroke-width="1.1"/>
<path d="M3.8,82.30 L7.3,82.30 L7.3,91.90 L3.8,91.90" fill="none" stroke="#000" stroke-width="1.1"/>
<path d="M3.8,94.90 L7.3,94.90 L7.3,104.50 L3.8,104.50" fill="none" stroke="#000" stroke-width="1.1"/>
<path d="M3.8,107.50 L7.3,107.50 L7.3,116.60" fill="none" stroke="#000" stroke-width="1.1"/>
<line x1="10.40" y1="7.00" x2="10.40" y2="116.60" stroke="#000" stroke-width="1.5"/>
<line x1="10.40" y1="8.00" x2="26.80" y2="8.00" stroke="#000" stroke-width="2.0"/>
<line x1="26.80" y1="7.00" x2="26.80" y2="116.60" stroke="#000" stroke-width="1.2"/>
<circle cx="21.2" cy="17.20" r="4.3" fill="#1c1c1c" stroke="#000" stroke-width="1.6"/>
<circle cx="21.2" cy="17.20" r="2.6" fill="none" stroke="#bbb" stroke-width="0.7" stroke-dasharray="1.1 1.1"/>
<circle cx="21.2" cy="17.20" r="0.8" fill="#ddd"/>
<path d="M27.3,15.30 L30.0,17.20 L27.3,19.10 Z" fill="#000"/>
<rect x="21.00" y="10.80" width="0.60" height="0.80" fill="#000"/>
<circle cx="21.2" cy="35.16" r="4.3" fill="#1c1c1c" stroke="#000" stroke-width="1.6"/>
<circle cx="21.2" cy="35.16" r="2.6" fill="none" stroke="#bbb" stroke-width="0.7" stroke-dasharray="1.1 1.1"/>
<circle cx="21.2" cy="35.16" r="0.8" fill="#ddd"/>
<rect x="27.60" y="33.46" width="1.10" height="3.40" fill="#000"/>
<rect x="21.00" y="28.76" width="0.60" height="0.80" fill="#000"/>
<circle cx="21.2" cy="53.12" r="4.3" fill="#1c1c1c" stroke="#000" stroke-width="1.6"/>
<circle cx="21.2" cy="53.12" r="2.6" fill="none" stroke="#bbb" stroke-width="0.7" stroke-dasharray="1.1 1.1"/>
<circle cx="21.2" cy="53.12" r="0.8" fill="#ddd"/>
<path d="M27.3,51.22 L30.0,53.12 L27.3,55.02 Z" fill="#000"/>
<rect x="21.00" y="46.72" width="0.60" height="0.80" fill="#000"/>
<circle cx="21.2" cy="71.08" r="4.3" fill="#1c1c1c" stroke="#000" stroke-width="1.6"/>
<circle cx="21.2" cy="71.08" r="2.6" fill="none" stroke="#bbb" stroke-width="0.7" stroke-dasharray="1.1 1.1"/>
<circle cx="21.2" cy="71.08" r="0.8" fill="#ddd"/>
<rect x="27.60" y="69.38" width="1.10" height="3.40" fill="#000"/>
<rect x="21.00" y="64.68" width="0.60" height="0.80" fill="#000"/>
<circle cx="21.2" cy="89.04" r="4.3" fill="#1c1c1c" stroke="#000" stroke-width="1.6"/>
<circle cx="21.2" cy="89.04" r="2.6" fill="none" stroke="#bbb" stroke-width="0.7" stroke-dasharray="1.1 1.1"/>
<circle cx="21.2" cy="89.04" r="0.8" fill="#ddd"/>
<path d="M27.3,87.14 L30.0,89.04 L27.3,90.94 Z" fill="#000"/>
<rect x="21.00" y="82.64" width="0.60" height="0.80" fill="#000"/>
<circle cx="21.2" cy="107.00" r="4.3" fill="#1c1c1c" stroke="#000" stroke-width="1.6"/>
<circle cx="21.2" cy="107.00" r="2.6" fill="none" stroke="#bbb" stroke-width="0.7" stroke-dasharray="1.1 1.1"/>
<circle cx="21.2" cy="107.00" r="0.8" fill="#ddd"/>
<rect x="27.60" y="105.30" width="1.10" height="3.40" fill="#000"/>
<rect x="21.00" y="100.60" width="0.60" height="0.80" fill="#000"/>
<rect x="30.00" y="8.20" width="2.40" height="4.00" fill="#222"/>
<rect x="30.00" y="24.30" width="2.40" height="4.00" fill="#222"/>
<rect x="30.00" y="59.20" width="2.40" height="4.00" fill="#222"/>
<rect x="30.00" y="90.60" width="2.40" height="4.00" fill="#222"/>
<line x1="37.40" y1="7.00" x2="37.40" y2="116.60" stroke="#000" stroke-width="1.2"/>
<line x1="40.00" y1="44.50" x2="40.00" y2="53.60" stroke="#000" stroke-width="1.1"/>
<line x1="40.00" y1="57.20" x2="40.00" y2="66.30" stroke="#000" stroke-width="1.1"/>
<line x1="42.20" y1="70.20" x2="42.20" y2="79.40" stroke="#000" stroke-width="1.1"/>
<line x1="42.20" y1="82.60" x2="42.20" y2="91.50" stroke="#000" stroke-width="1.1"/>
<line x1="42.20" y1="95.30" x2="42.20" y2="104.60" stroke="#000" stroke-width="1.1"/>
<line x1="42.20" y1="108.00" x2="42.20" y2="116.60" stroke="#000" stroke-width="1.1"/>
<line x1="48.40" y1="108.00" x2="48.40" y2="116.60" stroke="#000" stroke-width="1.1"/>
<path d="M40.8,20.6 Q42.6,21.3 43.4,22.0 L50.4,22.0 M40.8,27.2 Q42.6,26.5 43.4,25.9 L50.4,25.9" fill="none" stroke="#000" stroke-width="1.9"/>
<rect x="50.60" y="20.60" width="6.00" height="6.60" fill="none" stroke="#000" stroke-width="1.1"/>
<line x1="45.00" y1="20.40" x2="57.00" y2="20.40" stroke="#000" stroke-width="0.9"/>
<rect x="45.60" y="33.20" width="3.60" height="5.00" fill="none" stroke="#000" stroke-width="1.6"/>
<path d="M37.6,40.8 L37.6,33.5 Q39.1,32.5 40.4,33.5 L40.4,40.8" fill="none" stroke="#000" stroke-width="1.1"/>
<rect x="45.60" y="46.30" width="3.60" height="4.50" fill="none" stroke="#000" stroke-width="1.6"/>
<path d="M50.6,44.6 L57,44.6 L57,47.2 Q53.5,46 52.3,47.2 Z" fill="#000" stroke="#000" stroke-width="0.8"/>
<path d="M44.2,79.4 L44.2,75.5 Q45,72.2 48.8,72.0 Q52.6,72.2 53.4,75.5 L53.4,79.4" fill="none" stroke="#000" stroke-width="1.3"/>
<path d="M45.0,75.0 Q46,72.9 48.8,72.8 Q51.6,72.9 52.6,75.0 Z" fill="#000" stroke="#000" stroke-width="1.0"/>
<path d="M44.2,82.6 L44.2,84.2 Q45,87 48.8,87.2 Q52.6,87 53.4,84.2 L53.4,82.6" fill="none" stroke="#000" stroke-width="1.3"/>
<path d="M45.0,84.4 Q46,86.4 48.8,86.5 Q51.6,86.4 52.6,84.4 Z" fill="#000" stroke="#000" stroke-width="1.0"/>
<rect x="46.30" y="97.20" width="3.20" height="4.20" fill="none" stroke="#000" stroke-width="1.5"/>
<path d="M41.3,108.5 L41.3,111.5 Q42.2,113 43.1,111.5 L43.1,108.5" fill="none" stroke="#000" stroke-width="1.0"/>
<rect x="51.60" y="111.30" width="5.00" height="4.80" fill="none" stroke="#000" stroke-width="1.4"/>
<path d="M57.2,16.00 L34.8,16.00 Q33.0,16.00 33.0,17.75 Q33.0,19.50 34.8,19.50 L57.2,19.50" fill="#fff" stroke="#000" stroke-width="1.25"/>
<path d="M57.2,28.68 L34.8,28.68 Q33.0,28.68 33.0,30.43 Q33.0,32.18 34.8,32.18 L57.2,32.18" fill="#fff" stroke="#000" stroke-width="1.25"/>
<path d="M57.2,41.36 L34.8,41.36 Q33.0,41.36 33.0,43.11 Q33.0,44.86 34.8,44.86 L57.2,44.86" fill="#fff" stroke="#000" stroke-width="1.25"/>
<path d="M57.2,54.04 L34.8,54.04 Q33.0,54.04 33.0,55.79 Q33.0,57.54 34.8,57.54 L57.2,57.54" fill="#fff" stroke="#000" stroke-width="1.25"/>
<path d="M57.2,66.72 L34.8,66.72 Q33.0,66.72 33.0,68.47 Q33.0,70.22 34.8,70.22 L57.2,70.22" fill="#fff" stroke="#000" stroke-width="1.25"/>
<path d="M57.2,79.40 L34.8,79.40 Q33.0,79.40 33.0,81.15 Q33.0,82.90 34.8,82.90 L57.2,82.90" fill="#fff" stroke="#000" stroke-width="1.25"/>
<path d="M57.2,92.08 L34.8,92.08 Q33.0,92.08 33.0,93.83 Q33.0,95.58 34.8,95.58 L57.2,95.58" fill="#fff" stroke="#000" stroke-width="1.25"/>
<path d="M57.2,104.76 L34.8,104.76 Q33.0,104.76 33.0,106.51 Q33.0,108.26 34.8,108.26 L57.2,108.26" fill="#fff" stroke="#000" stroke-width="1.25"/>
<rect x="62.90" y="7.10" width="150.40" height="39.30" fill="none" stroke="#000" stroke-width="1.3"/>
<text x="67.4" y="43.75" font-size="20.3" stroke="#000" stroke-width="0.5" textLength="134" lengthAdjust="spacingAndGlyphs">SITOP UPS1600</text>
<path d="M221.0,6.60 L217.1,6.60 L217.1,16.70 L221.0,16.70" fill="none" stroke="#000" stroke-width="1.3"/>
<line x1="217.10" y1="6.60" x2="217.10" y2="16.70" stroke="#000" stroke-width="1.7"/>
<path d="M221.0,19.05 L217.1,19.05 L217.1,29.15 L221.0,29.15" fill="none" stroke="#000" stroke-width="1.3"/>
<line x1="217.10" y1="19.05" x2="217.10" y2="29.15" stroke="#000" stroke-width="1.7"/>
<path d="M221.0,31.50 L217.1,31.50 L217.1,41.60 L221.0,41.60" fill="none" stroke="#000" stroke-width="1.3"/>
<line x1="217.10" y1="31.50" x2="217.10" y2="41.60" stroke="#000" stroke-width="1.7"/>
<path d="M221.0,43.95 L217.1,43.95 L217.1,54.05 L221.0,54.05" fill="none" stroke="#000" stroke-width="1.3"/>
<line x1="217.10" y1="43.95" x2="217.10" y2="54.05" stroke="#000" stroke-width="1.7"/>
<path d="M221.0,56.40 L217.1,56.40 L217.1,66.50 L221.0,66.50" fill="none" stroke="#000" stroke-width="1.3"/>
<line x1="217.10" y1="56.40" x2="217.10" y2="66.50" stroke="#000" stroke-width="1.7"/>
<path d="M221.0,68.85 L217.1,68.85 L217.1,78.95 L221.0,78.95" fill="none" stroke="#000" stroke-width="1.3"/>
<line x1="217.10" y1="68.85" x2="217.10" y2="78.95" stroke="#000" stroke-width="1.7"/>
<path d="M221.0,81.30 L217.1,81.30 L217.1,91.40 L221.0,91.40" fill="none" stroke="#000" stroke-width="1.3"/>
<line x1="217.10" y1="81.30" x2="217.10" y2="91.40" stroke="#000" stroke-width="1.7"/>
<path d="M221.0,93.75 L217.1,93.75 L217.1,103.85 L221.0,103.85" fill="none" stroke="#000" stroke-width="1.3"/>
<line x1="217.10" y1="93.75" x2="217.10" y2="103.85" stroke="#000" stroke-width="1.7"/>
<path d="M221.0,106.20 L217.1,106.20 L217.1,116.30 L221.0,116.30" fill="none" stroke="#000" stroke-width="1.3"/>
<line x1="217.10" y1="106.20" x2="217.10" y2="116.30" stroke="#000" stroke-width="1.7"/>
<text transform="translate(84.0 119.3) rotate(-90)" font-size="5.4" font-weight="bold" fill="#000" stroke="#000" stroke-width="0.8" textLength="9.4" lengthAdjust="spacingAndGlyphs">X80</text>
<rect x="85.60" y="101.30" width="4.80" height="18.30" fill="#444" stroke="#000" stroke-width="1.1"/>
<text transform="translate(89.7 118.6) rotate(-90)" font-size="5.0" font-weight="bold" fill="#000" stroke="#000" stroke-width="0.5" textLength="16.6" lengthAdjust="spacingAndGlyphs">SIEMENS</text>
<text transform="translate(96.8 119.3) rotate(-90)" font-size="6.4" font-weight="bold" fill="#000" stroke="#000" stroke-width="0.8" textLength="40.0" lengthAdjust="spacingAndGlyphs">OUTPUT DC 24V/40A X30</text>
<text transform="translate(102.0 119.3) rotate(-90)" font-size="5.4" font-weight="bold" fill="#000" stroke="#000" stroke-width="0.75" textLength="21.8" lengthAdjust="spacingAndGlyphs">INPUT 24V</text>
<rect x="103.40" y="97.10" width="9.90" height="22.20" fill="none" stroke="#000" stroke-width="1.3"/>
<line x1="124.80" y1="103.70" x2="119.00" y2="96.90" stroke="#000" stroke-width="1.3"/>
<rect x="117.50" y="95.10" width="3.0" height="3.60" rx="0.7" fill="#000"/>
<line x1="124.80" y1="103.70" x2="119.00" y2="103.70" stroke="#000" stroke-width="1.3"/>
<rect x="117.50" y="101.90" width="3.0" height="3.60" rx="0.7" fill="#000"/>
<line x1="124.80" y1="103.70" x2="119.00" y2="110.50" stroke="#000" stroke-width="1.3"/>
<rect x="117.50" y="108.20" width="3.0" height="4.60" rx="0.7" fill="#000"/>
<line x1="124.80" y1="103.70" x2="124.80" y2="96.90" stroke="#000" stroke-width="1.3"/>
<rect x="123.30" y="95.10" width="3.0" height="3.60" rx="0.7" fill="#000"/>
<line x1="124.80" y1="103.70" x2="124.80" y2="110.50" stroke="#000" stroke-width="1.3"/>
<rect x="123.30" y="108.20" width="3.0" height="4.60" rx="0.7" fill="#000"/>
<line x1="124.80" y1="103.70" x2="130.60" y2="96.90" stroke="#000" stroke-width="1.3"/>
<rect x="129.10" y="95.10" width="3.0" height="3.60" rx="0.7" fill="#000"/>
<line x1="124.80" y1="103.70" x2="130.60" y2="103.70" stroke="#000" stroke-width="1.3"/>
<rect x="129.10" y="101.90" width="3.0" height="3.60" rx="0.7" fill="#000"/>
<line x1="124.80" y1="103.70" x2="130.60" y2="110.50" stroke="#000" stroke-width="1.3"/>
<rect x="129.10" y="108.20" width="3.0" height="4.60" rx="0.7" fill="#000"/>
<circle cx="124.8" cy="103.7" r="3.5" fill="#000"/>
<ellipse cx="124.8" cy="103.7" rx="2.0" ry="1.9" fill="#fff"/>
<line x1="122.60" y1="103.70" x2="127.00" y2="103.70" stroke="#000" stroke-width="0.9"/>
<text transform="translate(126.80 92.90) rotate(-90)" font-size="4.8" font-weight="bold" stroke="#000" stroke-width="0.6" textLength="9.4" lengthAdjust="spacingAndGlyphs">CHG</text>
<line x1="142.30" y1="103.70" x2="136.50" y2="96.90" stroke="#000" stroke-width="1.3"/>
<rect x="135.00" y="95.10" width="3.0" height="3.60" rx="0.7" fill="#000"/>
<line x1="142.30" y1="103.70" x2="136.50" y2="103.70" stroke="#000" stroke-width="1.3"/>
<rect x="135.00" y="101.90" width="3.0" height="3.60" rx="0.7" fill="#000"/>
<line x1="142.30" y1="103.70" x2="136.50" y2="110.50" stroke="#000" stroke-width="1.3"/>
<rect x="135.00" y="108.20" width="3.0" height="4.60" rx="0.7" fill="#000"/>
<line x1="142.30" y1="103.70" x2="142.30" y2="96.90" stroke="#000" stroke-width="1.3"/>
<rect x="140.80" y="95.10" width="3.0" height="3.60" rx="0.7" fill="#000"/>
<line x1="142.30" y1="103.70" x2="142.30" y2="110.50" stroke="#000" stroke-width="1.3"/>
<rect x="140.80" y="108.20" width="3.0" height="4.60" rx="0.7" fill="#000"/>
<line x1="142.30" y1="103.70" x2="148.10" y2="96.90" stroke="#000" stroke-width="1.3"/>
<rect x="146.60" y="95.10" width="3.0" height="3.60" rx="0.7" fill="#000"/>
<line x1="142.30" y1="103.70" x2="148.10" y2="103.70" stroke="#000" stroke-width="1.3"/>
<rect x="146.60" y="101.90" width="3.0" height="3.60" rx="0.7" fill="#000"/>
<line x1="142.30" y1="103.70" x2="148.10" y2="110.50" stroke="#000" stroke-width="1.3"/>
<rect x="146.60" y="108.20" width="3.0" height="4.60" rx="0.7" fill="#000"/>
<circle cx="142.3" cy="103.7" r="3.5" fill="#000"/>
<ellipse cx="142.3" cy="103.7" rx="2.0" ry="1.9" fill="#fff"/>
<line x1="140.10" y1="103.70" x2="144.50" y2="103.70" stroke="#000" stroke-width="0.9"/>
<text transform="translate(144.30 92.60) rotate(-90)" font-size="4.8" font-weight="bold" stroke="#000" stroke-width="0.6" textLength="9.4" lengthAdjust="spacingAndGlyphs">DLY</text>
<rect x="152.90" y="97.00" width="4.2" height="4.2" rx="0.8" fill="#fff" stroke="#000" stroke-width="1.5"/>
<rect x="152.90" y="105.90" width="4.2" height="4.2" rx="0.8" fill="#fff" stroke="#000" stroke-width="1.5"/>
<rect x="160.40" y="97.00" width="4.2" height="4.2" rx="0.8" fill="#fff" stroke="#000" stroke-width="1.5"/>
<rect x="160.40" y="105.90" width="4.2" height="4.2" rx="0.8" fill="#fff" stroke="#000" stroke-width="1.5"/>
<rect x="167.90" y="97.00" width="4.2" height="4.2" rx="0.8" fill="#fff" stroke="#000" stroke-width="1.5"/>
<rect x="167.90" y="105.90" width="4.2" height="4.2" rx="0.8" fill="#fff" stroke="#000" stroke-width="1.5"/>
<rect x="175.20" y="97.00" width="4.2" height="4.2" rx="0.8" fill="#fff" stroke="#000" stroke-width="1.5"/>
<rect x="175.20" y="105.90" width="4.2" height="4.2" rx="0.8" fill="#fff" stroke="#000" stroke-width="1.5"/>
<rect x="168.60" y="88.10" width="3.40" height="8.60" fill="#000"/>
<rect x="176.10" y="87.30" width="3.30" height="9.40" fill="#000"/>
<rect x="168.40" y="110.30" width="3.70" height="11.30" fill="#000"/>
<rect x="176.00" y="110.30" width="3.50" height="10.70" fill="#000"/>
<rect x="182.9" y="82.8" width="13.0" height="35.9" rx="1.2" fill="none" stroke="#000" stroke-width="1.5"/>
<rect x="184.90" y="79.50" width="9.50" height="4.40" fill="none" stroke="#000" stroke-width="1.1"/>
<line x1="184.90" y1="81.30" x2="194.40" y2="81.30" stroke="#000" stroke-width="0.8"/>
<circle cx="189.5" cy="100.8" r="3.7" fill="none" stroke="#000" stroke-width="1.2"/>
<rect x="201.30" y="84.20" width="9.40" height="35.40" fill="none" stroke="#000" stroke-width="1.4"/>
<rect x="202.80" y="86.10" width="6.30" height="32.10" fill="#111"/>
<text transform="translate(207.6 116.8) rotate(-90)" font-size="5.5" font-weight="bold" fill="#777" textLength="29" lengthAdjust="spacingAndGlyphs">SIEMENS</text>
</g>
<g transform="translate(912.4000000000001 976.9) rotate(90)">
<rect x="83.60" y="-28.10" width="53.10" height="28.60" fill="#fff" stroke="#000" stroke-width="1.3"/>
<line x1="91.30" y1="-28.10" x2="91.30" y2="0.50" stroke="#000" stroke-width="1.2"/>
<line x1="129.00" y1="-28.10" x2="129.00" y2="0.50" stroke="#000" stroke-width="1.2"/>
<rect x="83.60" y="123.20" width="53.10" height="28.80" fill="#fff" stroke="#000" stroke-width="1.3"/>
<line x1="91.30" y1="123.20" x2="91.30" y2="152.00" stroke="#000" stroke-width="1.2"/>
<line x1="129.00" y1="123.20" x2="129.00" y2="152.00" stroke="#000" stroke-width="1.2"/>
<path d="M0,46.2 L-10.2,49.3 Q-12.5,50.0 -12.5,52.6 L-12.5,71.4 Q-12.5,73.9 -10.2,74.7 L0,77.9" fill="#fff" stroke="#000" stroke-width="1.3"/>
<path d="M0,50.8 L-4.2,50.8 Q-9.1,50.8 -9.1,55.8 L-9.1,68.0 Q-9.1,73.0 -4.2,73.0 L0,73.0" fill="none" stroke="#000" stroke-width="1.25"/>
<line x1="-15.70" y1="96.40" x2="0.00" y2="96.40" stroke="#000" stroke-width="1.2"/>
<path d="M-17.6,101.9 Q-19.9,104.2 -19.6,109.0 A9.6,9.75 0 1 0 -10.4,101.2 Q-13.0,99.6 -15.2,96.9 L-20.3,92.0 L-20.9,93.5 L-22.4,93.3 L-24.2,95.3 Z" fill="#fff" stroke="#000" stroke-width="1.3"/>
<path d="M-12.6,106.0 Q-16.6,104.8 -15.9,109.6 Q-15.0,114.6 -10.6,115.6 Q-12.6,111.5 -12.6,106.0 Z" fill="none" stroke="#000" stroke-width="1.3"/>
<text transform="translate(-4.6 116.7) rotate(-90)" font-size="7.9" font-weight="bold" stroke="#000" stroke-width="0.45" textLength="11.4" lengthAdjust="spacingAndGlyphs">GND</text>
<rect x="-19.90" y="110.20" width="1.40" height="1.40" fill="#000"/>
<rect x="0" y="0" width="221.5" height="123.7" rx="4.6" fill="#fff" stroke="#000" stroke-width="1.5"/>
<line x1="0.00" y1="7.00" x2="56.20" y2="7.00" stroke="#000" stroke-width="1.3"/>
<line x1="0.00" y1="116.60" x2="57.10" y2="116.60" stroke="#000" stroke-width="1.3"/>
<path d="M56.2,7.0 Q57.2,7.0 57.2,8.0 L57.2,116.6" fill="none" stroke="#000" stroke-width="1.6"/>
<path d="M7.3,7.0 L7.3,16.3 L3.8,16.3" fill="none" stroke="#000" stroke-width="1.1"/>
<path d="M3.8,19.30 L7.3,19.30 L7.3,28.90 L3.8,28.90" fill="none" stroke="#000" stroke-width="1.1"/>
<path d="M3.8,31.90 L7.3,31.90 L7.3,41.50 L3.8,41.50" fill="none" stroke="#000" stroke-width="1.1"/>
<path d="M3.8,44.50 L7.3,44.50 L7.3,54.10 L3.8,54.10" fill="none" stroke="#000" stroke-width="1.1"/>
<path d="M3.8,57.10 L7.3,57.10 L7.3,66.70 L3.8,66.70" fill="none" stroke="#000" stroke-width="1.1"/>
<path d="M3.8,69.70 L7.3,69.70 L7.3,79.30 L3.8,79.30" fill="none" stroke="#000" stroke-width="1.1"/>
<path d="M3.8,82.30 L7.3,82.30 L7.3,91.90 L3.8,91.90" fill="none" stroke="#000" stroke-width="1.1"/>
<path d="M3.8,94.90 L7.3,94.90 L7.3,104.50 L3.8,104.50" fill="none" stroke="#000" stroke-width="1.1"/>
<path d="M3.8,107.50 L7.3,107.50 L7.3,116.60" fill="none" stroke="#000" stroke-width="1.1"/>
<line x1="10.40" y1="7.00" x2="10.40" y2="116.60" stroke="#000" stroke-width="1.5"/>
<line x1="10.40" y1="8.00" x2="26.80" y2="8.00" stroke="#000" stroke-width="2.0"/>
<line x1="26.80" y1="7.00" x2="26.80" y2="116.60" stroke="#000" stroke-width="1.2"/>
<circle cx="21.2" cy="17.20" r="4.3" fill="#1c1c1c" stroke="#000" stroke-width="1.6"/>
<circle cx="21.2" cy="17.20" r="2.6" fill="none" stroke="#bbb" stroke-width="0.7" stroke-dasharray="1.1 1.1"/>
<circle cx="21.2" cy="17.20" r="0.8" fill="#ddd"/>
<path d="M27.3,15.30 L30.0,17.20 L27.3,19.10 Z" fill="#000"/>
<rect x="21.00" y="10.80" width="0.60" height="0.80" fill="#000"/>
<circle cx="21.2" cy="35.16" r="4.3" fill="#1c1c1c" stroke="#000" stroke-width="1.6"/>
<circle cx="21.2" cy="35.16" r="2.6" fill="none" stroke="#bbb" stroke-width="0.7" stroke-dasharray="1.1 1.1"/>
<circle cx="21.2" cy="35.16" r="0.8" fill="#ddd"/>
<rect x="27.60" y="33.46" width="1.10" height="3.40" fill="#000"/>
<rect x="21.00" y="28.76" width="0.60" height="0.80" fill="#000"/>
<circle cx="21.2" cy="53.12" r="4.3" fill="#1c1c1c" stroke="#000" stroke-width="1.6"/>
<circle cx="21.2" cy="53.12" r="2.6" fill="none" stroke="#bbb" stroke-width="0.7" stroke-dasharray="1.1 1.1"/>
<circle cx="21.2" cy="53.12" r="0.8" fill="#ddd"/>
<path d="M27.3,51.22 L30.0,53.12 L27.3,55.02 Z" fill="#000"/>
<rect x="21.00" y="46.72" width="0.60" height="0.80" fill="#000"/>
<circle cx="21.2" cy="71.08" r="4.3" fill="#1c1c1c" stroke="#000" stroke-width="1.6"/>
<circle cx="21.2" cy="71.08" r="2.6" fill="none" stroke="#bbb" stroke-width="0.7" stroke-dasharray="1.1 1.1"/>
<circle cx="21.2" cy="71.08" r="0.8" fill="#ddd"/>
<rect x="27.60" y="69.38" width="1.10" height="3.40" fill="#000"/>
<rect x="21.00" y="64.68" width="0.60" height="0.80" fill="#000"/>
<circle cx="21.2" cy="89.04" r="4.3" fill="#1c1c1c" stroke="#000" stroke-width="1.6"/>
<circle cx="21.2" cy="89.04" r="2.6" fill="none" stroke="#bbb" stroke-width="0.7" stroke-dasharray="1.1 1.1"/>
<circle cx="21.2" cy="89.04" r="0.8" fill="#ddd"/>
<path d="M27.3,87.14 L30.0,89.04 L27.3,90.94 Z" fill="#000"/>
<rect x="21.00" y="82.64" width="0.60" height="0.80" fill="#000"/>
<circle cx="21.2" cy="107.00" r="4.3" fill="#1c1c1c" stroke="#000" stroke-width="1.6"/>
<circle cx="21.2" cy="107.00" r="2.6" fill="none" stroke="#bbb" stroke-width="0.7" stroke-dasharray="1.1 1.1"/>
<circle cx="21.2" cy="107.00" r="0.8" fill="#ddd"/>
<rect x="27.60" y="105.30" width="1.10" height="3.40" fill="#000"/>
<rect x="21.00" y="100.60" width="0.60" height="0.80" fill="#000"/>
<rect x="30.00" y="8.20" width="2.40" height="4.00" fill="#222"/>
<rect x="30.00" y="24.30" width="2.40" height="4.00" fill="#222"/>
<rect x="30.00" y="59.20" width="2.40" height="4.00" fill="#222"/>
<rect x="30.00" y="90.60" width="2.40" height="4.00" fill="#222"/>
<line x1="37.40" y1="7.00" x2="37.40" y2="116.60" stroke="#000" stroke-width="1.2"/>
<line x1="40.00" y1="44.50" x2="40.00" y2="53.60" stroke="#000" stroke-width="1.1"/>
<line x1="40.00" y1="57.20" x2="40.00" y2="66.30" stroke="#000" stroke-width="1.1"/>
<line x1="42.20" y1="70.20" x2="42.20" y2="79.40" stroke="#000" stroke-width="1.1"/>
<line x1="42.20" y1="82.60" x2="42.20" y2="91.50" stroke="#000" stroke-width="1.1"/>
<line x1="42.20" y1="95.30" x2="42.20" y2="104.60" stroke="#000" stroke-width="1.1"/>
<line x1="42.20" y1="108.00" x2="42.20" y2="116.60" stroke="#000" stroke-width="1.1"/>
<line x1="48.40" y1="108.00" x2="48.40" y2="116.60" stroke="#000" stroke-width="1.1"/>
<path d="M40.8,20.6 Q42.6,21.3 43.4,22.0 L50.4,22.0 M40.8,27.2 Q42.6,26.5 43.4,25.9 L50.4,25.9" fill="none" stroke="#000" stroke-width="1.9"/>
<rect x="50.60" y="20.60" width="6.00" height="6.60" fill="none" stroke="#000" stroke-width="1.1"/>
<line x1="45.00" y1="20.40" x2="57.00" y2="20.40" stroke="#000" stroke-width="0.9"/>
<rect x="45.60" y="33.20" width="3.60" height="5.00" fill="none" stroke="#000" stroke-width="1.6"/>
<path d="M37.6,40.8 L37.6,33.5 Q39.1,32.5 40.4,33.5 L40.4,40.8" fill="none" stroke="#000" stroke-width="1.1"/>
<rect x="45.60" y="46.30" width="3.60" height="4.50" fill="none" stroke="#000" stroke-width="1.6"/>
<path d="M50.6,44.6 L57,44.6 L57,47.2 Q53.5,46 52.3,47.2 Z" fill="#000" stroke="#000" stroke-width="0.8"/>
<path d="M44.2,79.4 L44.2,75.5 Q45,72.2 48.8,72.0 Q52.6,72.2 53.4,75.5 L53.4,79.4" fill="none" stroke="#000" stroke-width="1.3"/>
<path d="M45.0,75.0 Q46,72.9 48.8,72.8 Q51.6,72.9 52.6,75.0 Z" fill="#000" stroke="#000" stroke-width="1.0"/>
<path d="M44.2,82.6 L44.2,84.2 Q45,87 48.8,87.2 Q52.6,87 53.4,84.2 L53.4,82.6" fill="none" stroke="#000" stroke-width="1.3"/>
<path d="M45.0,84.4 Q46,86.4 48.8,86.5 Q51.6,86.4 52.6,84.4 Z" fill="#000" stroke="#000" stroke-width="1.0"/>
<rect x="46.30" y="97.20" width="3.20" height="4.20" fill="none" stroke="#000" stroke-width="1.5"/>
<path d="M41.3,108.5 L41.3,111.5 Q42.2,113 43.1,111.5 L43.1,108.5" fill="none" stroke="#000" stroke-width="1.0"/>
<rect x="51.60" y="111.30" width="5.00" height="4.80" fill="none" stroke="#000" stroke-width="1.4"/>
<path d="M57.2,16.00 L34.8,16.00 Q33.0,16.00 33.0,17.75 Q33.0,19.50 34.8,19.50 L57.2,19.50" fill="#fff" stroke="#000" stroke-width="1.25"/>
<path d="M57.2,28.68 L34.8,28.68 Q33.0,28.68 33.0,30.43 Q33.0,32.18 34.8,32.18 L57.2,32.18" fill="#fff" stroke="#000" stroke-width="1.25"/>
<path d="M57.2,41.36 L34.8,41.36 Q33.0,41.36 33.0,43.11 Q33.0,44.86 34.8,44.86 L57.2,44.86" fill="#fff" stroke="#000" stroke-width="1.25"/>
<path d="M57.2,54.04 L34.8,54.04 Q33.0,54.04 33.0,55.79 Q33.0,57.54 34.8,57.54 L57.2,57.54" fill="#fff" stroke="#000" stroke-width="1.25"/>
<path d="M57.2,66.72 L34.8,66.72 Q33.0,66.72 33.0,68.47 Q33.0,70.22 34.8,70.22 L57.2,70.22" fill="#fff" stroke="#000" stroke-width="1.25"/>
<path d="M57.2,79.40 L34.8,79.40 Q33.0,79.40 33.0,81.15 Q33.0,82.90 34.8,82.90 L57.2,82.90" fill="#fff" stroke="#000" stroke-width="1.25"/>
<path d="M57.2,92.08 L34.8,92.08 Q33.0,92.08 33.0,93.83 Q33.0,95.58 34.8,95.58 L57.2,95.58" fill="#fff" stroke="#000" stroke-width="1.25"/>
<path d="M57.2,104.76 L34.8,104.76 Q33.0,104.76 33.0,106.51 Q33.0,108.26 34.8,108.26 L57.2,108.26" fill="#fff" stroke="#000" stroke-width="1.25"/>
<rect x="62.90" y="7.10" width="150.40" height="39.30" fill="none" stroke="#000" stroke-width="1.3"/>
<text x="67.4" y="43.75" font-size="20.3" stroke="#000" stroke-width="0.5" textLength="134" lengthAdjust="spacingAndGlyphs">SITOP UPS1600</text>
<path d="M221.0,6.60 L217.1,6.60 L217.1,16.70 L221.0,16.70" fill="none" stroke="#000" stroke-width="1.3"/>
<line x1="217.10" y1="6.60" x2="217.10" y2="16.70" stroke="#000" stroke-width="1.7"/>
<path d="M221.0,19.05 L217.1,19.05 L217.1,29.15 L221.0,29.15" fill="none" stroke="#000" stroke-width="1.3"/>
<line x1="217.10" y1="19.05" x2="217.10" y2="29.15" stroke="#000" stroke-width="1.7"/>
<path d="M221.0,31.50 L217.1,31.50 L217.1,41.60 L221.0,41.60" fill="none" stroke="#000" stroke-width="1.3"/>
<line x1="217.10" y1="31.50" x2="217.10" y2="41.60" stroke="#000" stroke-width="1.7"/>
<path d="M221.0,43.95 L217.1,43.95 L217.1,54.05 L221.0,54.05" fill="none" stroke="#000" stroke-width="1.3"/>
<line x1="217.10" y1="43.95" x2="217.10" y2="54.05" stroke="#000" stroke-width="1.7"/>
<path d="M221.0,56.40 L217.1,56.40 L217.1,66.50 L221.0,66.50" fill="none" stroke="#000" stroke-width="1.3"/>
<line x1="217.10" y1="56.40" x2="217.10" y2="66.50" stroke="#000" stroke-width="1.7"/>
<path d="M221.0,68.85 L217.1,68.85 L217.1,78.95 L221.0,78.95" fill="none" stroke="#000" stroke-width="1.3"/>
<line x1="217.10" y1="68.85" x2="217.10" y2="78.95" stroke="#000" stroke-width="1.7"/>
<path d="M221.0,81.30 L217.1,81.30 L217.1,91.40 L221.0,91.40" fill="none" stroke="#000" stroke-width="1.3"/>
<line x1="217.10" y1="81.30" x2="217.10" y2="91.40" stroke="#000" stroke-width="1.7"/>
<path d="M221.0,93.75 L217.1,93.75 L217.1,103.85 L221.0,103.85" fill="none" stroke="#000" stroke-width="1.3"/>
<line x1="217.10" y1="93.75" x2="217.10" y2="103.85" stroke="#000" stroke-width="1.7"/>
<path d="M221.0,106.20 L217.1,106.20 L217.1,116.30 L221.0,116.30" fill="none" stroke="#000" stroke-width="1.3"/>
<line x1="217.10" y1="106.20" x2="217.10" y2="116.30" stroke="#000" stroke-width="1.7"/>
<text transform="translate(84.0 119.3) rotate(-90)" font-size="5.4" font-weight="bold" fill="#000" stroke="#000" stroke-width="0.8" textLength="9.4" lengthAdjust="spacingAndGlyphs">X80</text>
<rect x="85.60" y="101.30" width="4.80" height="18.30" fill="#444" stroke="#000" stroke-width="1.1"/>
<text transform="translate(89.7 118.6) rotate(-90)" font-size="5.0" font-weight="bold" fill="#000" stroke="#000" stroke-width="0.5" textLength="16.6" lengthAdjust="spacingAndGlyphs">SIEMENS</text>
<text transform="translate(96.8 119.3) rotate(-90)" font-size="6.4" font-weight="bold" fill="#000" stroke="#000" stroke-width="0.8" textLength="40.0" lengthAdjust="spacingAndGlyphs">OUTPUT DC 24V/40A X30</text>
<text transform="translate(102.0 119.3) rotate(-90)" font-size="5.4" font-weight="bold" fill="#000" stroke="#000" stroke-width="0.75" textLength="21.8" lengthAdjust="spacingAndGlyphs">INPUT 24V</text>
<rect x="103.40" y="97.10" width="9.90" height="22.20" fill="none" stroke="#000" stroke-width="1.3"/>
<line x1="124.80" y1="103.70" x2="119.00" y2="96.90" stroke="#000" stroke-width="1.3"/>
<rect x="117.50" y="95.10" width="3.0" height="3.60" rx="0.7" fill="#000"/>
<line x1="124.80" y1="103.70" x2="119.00" y2="103.70" stroke="#000" stroke-width="1.3"/>
<rect x="117.50" y="101.90" width="3.0" height="3.60" rx="0.7" fill="#000"/>
<line x1="124.80" y1="103.70" x2="119.00" y2="110.50" stroke="#000" stroke-width="1.3"/>
<rect x="117.50" y="108.20" width="3.0" height="4.60" rx="0.7" fill="#000"/>
<line x1="124.80" y1="103.70" x2="124.80" y2="96.90" stroke="#000" stroke-width="1.3"/>
<rect x="123.30" y="95.10" width="3.0" height="3.60" rx="0.7" fill="#000"/>
<line x1="124.80" y1="103.70" x2="124.80" y2="110.50" stroke="#000" stroke-width="1.3"/>
<rect x="123.30" y="108.20" width="3.0" height="4.60" rx="0.7" fill="#000"/>
<line x1="124.80" y1="103.70" x2="130.60" y2="96.90" stroke="#000" stroke-width="1.3"/>
<rect x="129.10" y="95.10" width="3.0" height="3.60" rx="0.7" fill="#000"/>
<line x1="124.80" y1="103.70" x2="130.60" y2="103.70" stroke="#000" stroke-width="1.3"/>
<rect x="129.10" y="101.90" width="3.0" height="3.60" rx="0.7" fill="#000"/>
<line x1="124.80" y1="103.70" x2="130.60" y2="110.50" stroke="#000" stroke-width="1.3"/>
<rect x="129.10" y="108.20" width="3.0" height="4.60" rx="0.7" fill="#000"/>
<circle cx="124.8" cy="103.7" r="3.5" fill="#000"/>
<ellipse cx="124.8" cy="103.7" rx="2.0" ry="1.9" fill="#fff"/>
<line x1="122.60" y1="103.70" x2="127.00" y2="103.70" stroke="#000" stroke-width="0.9"/>
<text transform="translate(126.80 92.90) rotate(-90)" font-size="4.8" font-weight="bold" stroke="#000" stroke-width="0.6" textLength="9.4" lengthAdjust="spacingAndGlyphs">CHG</text>
<line x1="142.30" y1="103.70" x2="136.50" y2="96.90" stroke="#000" stroke-width="1.3"/>
<rect x="135.00" y="95.10" width="3.0" height="3.60" rx="0.7" fill="#000"/>
<line x1="142.30" y1="103.70" x2="136.50" y2="103.70" stroke="#000" stroke-width="1.3"/>
<rect x="135.00" y="101.90" width="3.0" height="3.60" rx="0.7" fill="#000"/>
<line x1="142.30" y1="103.70" x2="136.50" y2="110.50" stroke="#000" stroke-width="1.3"/>
<rect x="135.00" y="108.20" width="3.0" height="4.60" rx="0.7" fill="#000"/>
<line x1="142.30" y1="103.70" x2="142.30" y2="96.90" stroke="#000" stroke-width="1.3"/>
<rect x="140.80" y="95.10" width="3.0" height="3.60" rx="0.7" fill="#000"/>
<line x1="142.30" y1="103.70" x2="142.30" y2="110.50" stroke="#000" stroke-width="1.3"/>
<rect x="140.80" y="108.20" width="3.0" height="4.60" rx="0.7" fill="#000"/>
<line x1="142.30" y1="103.70" x2="148.10" y2="96.90" stroke="#000" stroke-width="1.3"/>
<rect x="146.60" y="95.10" width="3.0" height="3.60" rx="0.7" fill="#000"/>
<line x1="142.30" y1="103.70" x2="148.10" y2="103.70" stroke="#000" stroke-width="1.3"/>
<rect x="146.60" y="101.90" width="3.0" height="3.60" rx="0.7" fill="#000"/>
<line x1="142.30" y1="103.70" x2="148.10" y2="110.50" stroke="#000" stroke-width="1.3"/>
<rect x="146.60" y="108.20" width="3.0" height="4.60" rx="0.7" fill="#000"/>
<circle cx="142.3" cy="103.7" r="3.5" fill="#000"/>
<ellipse cx="142.3" cy="103.7" rx="2.0" ry="1.9" fill="#fff"/>
<line x1="140.10" y1="103.70" x2="144.50" y2="103.70" stroke="#000" stroke-width="0.9"/>
<text transform="translate(144.30 92.60) rotate(-90)" font-size="4.8" font-weight="bold" stroke="#000" stroke-width="0.6" textLength="9.4" lengthAdjust="spacingAndGlyphs">DLY</text>
<rect x="152.90" y="97.00" width="4.2" height="4.2" rx="0.8" fill="#fff" stroke="#000" stroke-width="1.5"/>
<rect x="152.90" y="105.90" width="4.2" height="4.2" rx="0.8" fill="#fff" stroke="#000" stroke-width="1.5"/>
<rect x="160.40" y="97.00" width="4.2" height="4.2" rx="0.8" fill="#fff" stroke="#000" stroke-width="1.5"/>
<rect x="160.40" y="105.90" width="4.2" height="4.2" rx="0.8" fill="#fff" stroke="#000" stroke-width="1.5"/>
<rect x="167.90" y="97.00" width="4.2" height="4.2" rx="0.8" fill="#fff" stroke="#000" stroke-width="1.5"/>
<rect x="167.90" y="105.90" width="4.2" height="4.2" rx="0.8" fill="#fff" stroke="#000" stroke-width="1.5"/>
<rect x="175.20" y="97.00" width="4.2" height="4.2" rx="0.8" fill="#fff" stroke="#000" stroke-width="1.5"/>
<rect x="175.20" y="105.90" width="4.2" height="4.2" rx="0.8" fill="#fff" stroke="#000" stroke-width="1.5"/>
<rect x="168.60" y="88.10" width="3.40" height="8.60" fill="#000"/>
<rect x="176.10" y="87.30" width="3.30" height="9.40" fill="#000"/>
<rect x="168.40" y="110.30" width="3.70" height="11.30" fill="#000"/>
<rect x="176.00" y="110.30" width="3.50" height="10.70" fill="#000"/>
<rect x="182.9" y="82.8" width="13.0" height="35.9" rx="1.2" fill="none" stroke="#000" stroke-width="1.5"/>
<rect x="184.90" y="79.50" width="9.50" height="4.40" fill="none" stroke="#000" stroke-width="1.1"/>
<line x1="184.90" y1="81.30" x2="194.40" y2="81.30" stroke="#000" stroke-width="0.8"/>
<circle cx="189.5" cy="100.8" r="3.7" fill="none" stroke="#000" stroke-width="1.2"/>
<rect x="201.30" y="84.20" width="9.40" height="35.40" fill="none" stroke="#000" stroke-width="1.4"/>
<rect x="202.80" y="86.10" width="6.30" height="32.10" fill="#111"/>
<text transform="translate(207.6 116.8) rotate(-90)" font-size="5.5" font-weight="bold" fill="#777" textLength="29" lengthAdjust="spacingAndGlyphs">SIEMENS</text>
</g>
</svg>
</body></html>
